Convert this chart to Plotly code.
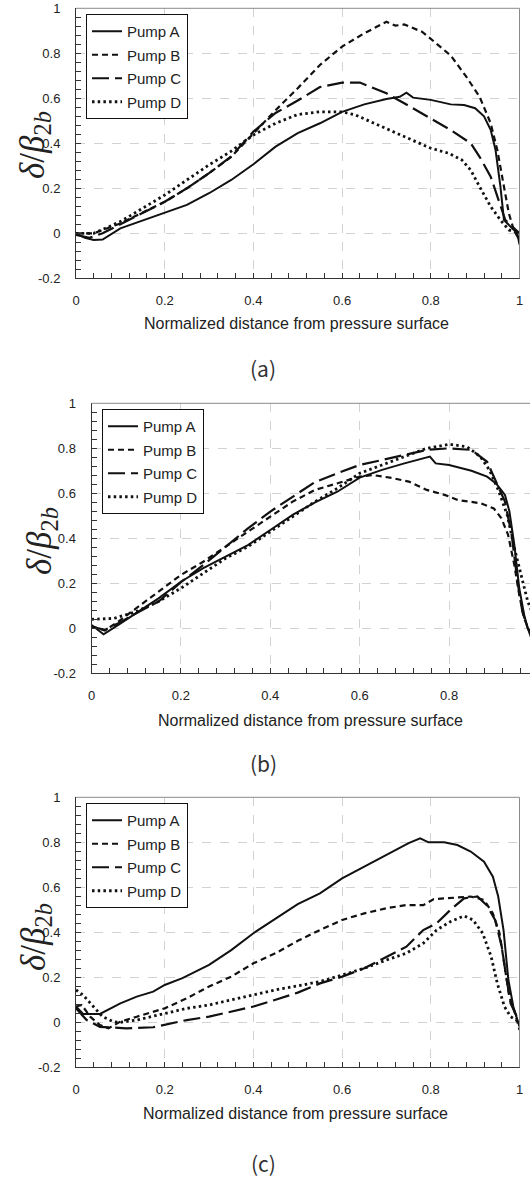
import plotly.graph_objects as go

# ---------------- data ----------------
pumps = ["Pump A", "Pump B", "Pump C", "Pump D"]
panel_labels = ["(a)", "(b)", "(c)"]
x_title = "Normalized distance from pressure surface"
y_title = "<i>δ</i>/<i>β</i><sub>2<i>b</i></sub>"

x_tick_vals = [0, 0.2, 0.4, 0.6, 0.8, 1.0]
x_tick_text = ["0", "0.2", "0.4", "0.6", "0.8", "1"]
y_tick_vals = [-0.2, 0, 0.2, 0.4, 0.6, 0.8, 1.0]
y_tick_text = ["-0.2", "0", "0.2", "0.4", "0.6", "0.8", "1"]

# Panel (a)
a_A_x = [0, 0.02, 0.04, 0.06, 0.1, 0.137, 0.2, 0.25, 0.3, 0.35, 0.4, 0.45, 0.5, 0.55, 0.6, 0.65, 0.7, 0.73,
         0.745, 0.76, 0.8, 0.845, 0.875, 0.9, 0.92, 0.935, 0.946, 0.957, 0.965, 0.98, 0.995, 1.0]
a_A_y = [0, -0.02, -0.03, -0.028, 0.022, 0.047, 0.089, 0.126, 0.178, 0.237, 0.307, 0.385, 0.445, 0.489, 0.54,
         0.573, 0.597, 0.607, 0.625, 0.603, 0.593, 0.573, 0.57, 0.556, 0.52, 0.46, 0.37, 0.207, 0.059, 0.03, 0.0, -0.05]
a_B_x = [0, 0.04, 0.1, 0.137, 0.2, 0.25, 0.3, 0.35, 0.4, 0.45, 0.5, 0.55, 0.6, 0.65, 0.7, 0.72, 0.74, 0.78,
         0.8, 0.845, 0.88, 0.91, 0.935, 0.95, 0.965, 0.976, 0.987, 1.0]
a_B_y = [0, 0, 0.044, 0.08, 0.14, 0.2, 0.267, 0.34, 0.445, 0.547, 0.645, 0.748, 0.83, 0.889, 0.94, 0.923, 0.928,
         0.896, 0.864, 0.79, 0.696, 0.607, 0.489, 0.37, 0.207, 0.089, 0.015, -0.03]
a_C_x = [0, 0.03, 0.06, 0.1, 0.137, 0.2, 0.25, 0.3, 0.35, 0.4, 0.45, 0.5, 0.55, 0.6, 0.64, 0.675, 0.7, 0.74,
         0.8, 0.845, 0.89, 0.91, 0.935, 0.957, 0.968, 1.0]
a_C_y = [-0.007, -0.02, 0, 0.04, 0.074, 0.14, 0.2, 0.267, 0.342, 0.452, 0.535, 0.59, 0.65, 0.67, 0.67, 0.644,
         0.622, 0.578, 0.511, 0.459, 0.4, 0.34, 0.252, 0.119, 0.059, 0]
a_D_x = [0, 0.04, 0.1, 0.137, 0.2, 0.25, 0.3, 0.35, 0.4, 0.45, 0.5, 0.55, 0.6, 0.63, 0.7, 0.74, 0.8, 0.84,
         0.87, 0.89, 0.91, 0.935, 0.957, 0.976, 1.0]
a_D_y = [0, 0, 0.052, 0.096, 0.17, 0.237, 0.304, 0.365, 0.437, 0.489, 0.528, 0.54, 0.54, 0.526, 0.467, 0.43,
         0.378, 0.356, 0.326, 0.281, 0.207, 0.119, 0.059, 0.015, 0]

# Panel (b)
b_A_x = [0, 0.027, 0.06, 0.1, 0.15, 0.2, 0.25, 0.3, 0.35, 0.4, 0.45, 0.5, 0.55, 0.6, 0.65, 0.7, 0.757, 0.77,
         0.8, 0.85, 0.885, 0.905, 0.925, 0.935, 0.946, 0.957, 0.968, 0.976, 0.985]
b_A_y = [0.015, -0.027, 0.015, 0.067, 0.133, 0.207, 0.267, 0.319, 0.37, 0.437, 0.504, 0.56, 0.607, 0.67, 0.704,
         0.733, 0.763, 0.733, 0.726, 0.7, 0.674, 0.644, 0.593, 0.519, 0.37, 0.178, 0.059, 0, -0.05]
b_B_x = [0, 0.03, 0.06, 0.1, 0.15, 0.2, 0.25, 0.3, 0.35, 0.4, 0.45, 0.5, 0.55, 0.6, 0.63, 0.675, 0.71, 0.75,
         0.79, 0.82, 0.87, 0.9, 0.917, 0.932, 0.946, 0.957, 0.968, 0.98, 0.99]
b_B_y = [0.01, -0.01, 0.03, 0.089, 0.163, 0.237, 0.296, 0.363, 0.43, 0.496, 0.563, 0.615, 0.644, 0.674, 0.681,
         0.667, 0.652, 0.615, 0.593, 0.57, 0.556, 0.533, 0.489, 0.415, 0.281, 0.148, 0.044, -0.015, -0.04]
b_C_x = [0, 0.03, 0.06, 0.1, 0.15, 0.2, 0.25, 0.3, 0.35, 0.4, 0.45, 0.5, 0.55, 0.6, 0.65, 0.7, 0.75, 0.8,
         0.85, 0.885, 0.905, 0.925, 0.94, 0.953, 0.964, 0.976, 0.99]
b_C_y = [0.007, -0.007, 0.022, 0.067, 0.119, 0.205, 0.281, 0.363, 0.444, 0.519, 0.585, 0.65, 0.689, 0.726,
         0.748, 0.77, 0.793, 0.8, 0.793, 0.74, 0.652, 0.563, 0.415, 0.207, 0.074, 0, -0.04]
b_D_x = [0, 0.05, 0.1, 0.15, 0.2, 0.25, 0.3, 0.35, 0.4, 0.45, 0.5, 0.55, 0.6, 0.65, 0.7, 0.75, 0.8, 0.84,
         0.87, 0.89, 0.91, 0.93, 0.948, 0.964, 0.976, 0.99]
b_D_y = [0.04, 0.044, 0.074, 0.119, 0.178, 0.244, 0.311, 0.363, 0.43, 0.496, 0.563, 0.622, 0.689, 0.726, 0.763,
         0.8, 0.818, 0.807, 0.763, 0.704, 0.615, 0.504, 0.341, 0.207, 0.119, 0.05]

# Panel (c)
c_A_x = [0, 0.016, 0.054, 0.077, 0.1, 0.137, 0.174, 0.2, 0.24, 0.3, 0.35, 0.4, 0.45, 0.5, 0.55, 0.6, 0.65,
         0.7, 0.75, 0.776, 0.795, 0.83, 0.86, 0.89, 0.92, 0.94, 0.952, 0.964, 0.975, 0.986, 1.0]
c_A_y = [0.07, 0.037, 0.037, 0.062, 0.084, 0.114, 0.136, 0.166, 0.196, 0.255, 0.321, 0.396, 0.462, 0.525, 0.573,
         0.64, 0.692, 0.744, 0.796, 0.818, 0.8, 0.8, 0.788, 0.759, 0.714, 0.647, 0.559, 0.41, 0.188, 0.07, -0.02]
c_B_x = [0, 0.013, 0.032, 0.054, 0.073, 0.1, 0.137, 0.2, 0.25, 0.3, 0.35, 0.4, 0.45, 0.5, 0.55, 0.6, 0.65,
         0.7, 0.745, 0.783, 0.806, 0.844, 0.89, 0.92, 0.94, 0.955, 0.966, 0.977, 0.99, 1.0]
c_B_y = [0.07, 0.077, 0.025, -0.012, -0.027, 0.003, 0.025, 0.062, 0.107, 0.159, 0.203, 0.262, 0.307, 0.362,
         0.41, 0.455, 0.484, 0.507, 0.521, 0.521, 0.547, 0.551, 0.559, 0.544, 0.484, 0.396, 0.247, 0.114, 0.04, -0.034]
c_C_x = [0, 0.024, 0.054, 0.077, 0.114, 0.174, 0.25, 0.3, 0.35, 0.4, 0.45, 0.5, 0.55, 0.6, 0.65, 0.7, 0.745,
         0.783, 0.813, 0.844, 0.875, 0.905, 0.926, 0.945, 0.96, 0.97, 0.98, 1.0]
c_C_y = [0.062, 0.01, -0.02, -0.022, -0.027, -0.022, 0.01, 0.025, 0.047, 0.07, 0.1, 0.132, 0.173, 0.203, 0.24,
         0.292, 0.336, 0.41, 0.44, 0.499, 0.551, 0.559, 0.521, 0.455, 0.336, 0.203, 0.084, 0]
c_D_x = [0, 0.016, 0.039, 0.06, 0.084, 0.1, 0.137, 0.2, 0.25, 0.3, 0.35, 0.4, 0.45, 0.5, 0.55, 0.6, 0.65, 0.7,
         0.745, 0.783, 0.813, 0.844, 0.875, 0.895, 0.917, 0.936, 0.95, 0.966, 0.98, 1.0]
c_D_y = [0.144, 0.121, 0.07, 0.025, 0.003, 0, 0.01, 0.04, 0.062, 0.077, 0.1, 0.121, 0.144, 0.162, 0.181, 0.21,
         0.24, 0.277, 0.307, 0.351, 0.41, 0.447, 0.473, 0.455, 0.396, 0.292, 0.173, 0.07, 0.025, 0]

panel_series = [
    [(a_A_x, a_A_y), (a_B_x, a_B_y), (a_C_x, a_C_y), (a_D_x, a_D_y)],
    [(b_A_x, b_A_y), (b_B_x, b_B_y), (b_C_x, b_C_y), (b_D_x, b_D_y)],
    [(c_A_x, c_A_y), (c_B_x, c_B_y), (c_C_x, c_C_y), (c_D_x, c_D_y)],
]

# ---------------- styling / layout ----------------
W, H = 530, 1177
line_styles = [
    dict(color="#111", width=2.0, dash="solid"),
    dict(color="#111", width=2.2, dash="6px,4px"),
    dict(color="#111", width=2.2, dash="17px,6px"),
    dict(color="#111", width=2.8, dash="2.5px,3.2px"),
]

# pixel geometry of each panel: left, right, top, bottom, x-range max
panels_px = [
    dict(l=76, r=519.5, t=8.3, b=278.3, xmax=1.0),
    dict(l=91.5, r=530, t=403.3, b=673.3, xmax=0.981),
    dict(l=76, r=519.5, t=797.3, b=1067.3, xmax=1.0),
]
ytitle_px = [(35, 145), (41, 541), (35, 937)]
xtitle_px = [(296, 323), (310, 720), (295, 1113)]
label_px = [(263, 368), (263, 763), (263, 1163)]
legend_px = [(86, 14), (102, 409), (86, 803)]


def px_x(p):
    return p / W


def px_y(p):
    return 1 - p / H


fig = go.Figure()
layout = dict(
    width=W, height=H, margin=dict(l=0, r=0, t=0, b=0, autoexpand=False),
    paper_bgcolor="white", plot_bgcolor="white",
    font=dict(family="Arial, Liberation Sans, sans-serif", color="#222"),
    annotations=[], shapes=[],
)

tickfont = dict(family="Arial, Liberation Sans, sans-serif", size=13, color="#222")

for i, series in enumerate(panel_series):
    xa = "x" if i == 0 else f"x{i+1}"
    ya = "y" if i == 0 else f"y{i+1}"
    lg = "legend" if i == 0 else f"legend{i+1}"
    geo = panels_px[i]
    for j, (xs, ys) in enumerate(series):
        fig.add_trace(go.Scatter(
            x=xs, y=ys, mode="lines", name=pumps[j], line=line_styles[j],
            xaxis=xa, yaxis=ya, legend=lg, legendgroup=f"{i}{j}", showlegend=True,
            hoverinfo="skip",
        ))
    xkey = "xaxis" if i == 0 else f"xaxis{i+1}"
    ykey = "yaxis" if i == 0 else f"yaxis{i+1}"
    layout[xkey] = dict(
        domain=[px_x(geo["l"]), min(1.0, px_x(geo["r"]))], anchor=ya, automargin=False,
        range=[0, geo["xmax"]], tickmode="array", tickvals=x_tick_vals, ticktext=x_tick_text,
        ticks="inside", ticklen=5, tickcolor="#333", tickfont=tickfont, ticklabelstandoff=10,
        showgrid=True, gridcolor="#d2d2d2", griddash="dash", gridwidth=1, zeroline=False,
        showline=True, linecolor="#333", linewidth=1,
        minor=dict(tickmode="linear", tick0=0, dtick=0.04, ticks="inside", ticklen=5,
                   tickcolor="#333", showgrid=False),
        fixedrange=True,
    )
    layout[ykey] = dict(
        domain=[px_y(geo["b"]), px_y(geo["t"])], anchor=xa, automargin=False,
        range=[-0.2, 1.0], tickmode="array", tickvals=y_tick_vals, ticktext=y_tick_text,
        ticks="inside", ticklen=5, tickcolor="#333", tickfont=tickfont, ticklabelstandoff=12,
        showgrid=True, gridcolor="#d2d2d2", griddash="dash", gridwidth=1, zeroline=False,
        showline=True, linecolor="#333", linewidth=1,
        minor=dict(tickmode="linear", tick0=0, dtick=0.04, ticks="inside", ticklen=5,
                   tickcolor="#333", showgrid=False),
        fixedrange=True,
    )
    # top (and right) border in gray
    layout["shapes"].append(dict(type="line", xref=f"{xa} domain", yref=f"{ya} domain",
                                 x0=0, x1=1, y0=1, y1=1, line=dict(color="#8a8a8a", width=1), layer="above"))
    if geo["xmax"] >= 1.0:
        layout["shapes"].append(dict(type="line", xref=f"{xa} domain", yref=f"{ya} domain",
                                     x0=1, x1=1, y0=0, y1=1, line=dict(color="#8a8a8a", width=1), layer="above"))
    # legend
    lx, ly = legend_px[i]
    layout[lg] = dict(
        x=px_x(lx), y=px_y(ly), xanchor="left", yanchor="top", xref="paper", yref="paper",
        bgcolor="white", bordercolor="#111", borderwidth=1,
        font=dict(family="Arial, Liberation Sans, sans-serif", size=15, color="#222"),
        tracegroupgap=1, itemwidth=30,
    )
    # y-axis title
    tx, ty = ytitle_px[i]
    layout["annotations"].append(dict(
        text=y_title, xref="paper", yref="paper", x=px_x(tx), y=px_y(ty), textangle=-90,
        showarrow=False, xanchor="center", yanchor="middle",
        font=dict(family="Liberation Serif, Times New Roman, serif", size=35, color="#222"),
    ))
    # x-axis title
    tx, ty = xtitle_px[i]
    layout["annotations"].append(dict(
        text=x_title, xref="paper", yref="paper", x=px_x(tx), y=px_y(ty),
        showarrow=False, xanchor="center", yanchor="middle",
        font=dict(family="Arial, Liberation Sans, sans-serif", size=16, color="#222"),
    ))
    # panel label
    tx, ty = label_px[i]
    layout["annotations"].append(dict(
        text=panel_labels[i], xref="paper", yref="paper", x=px_x(tx), y=px_y(ty),
        showarrow=False, xanchor="center", yanchor="middle",
        font=dict(family="Noto Sans CJK KR, Arial, sans-serif", size=21, color="#333"),
    ))

fig.update_layout(**layout)
fig.write_html(
    "out.html",
    config={"displayModeBar": False},
    post_script="document.body.style.margin='0';document.body.style.overflow='hidden';",
)
